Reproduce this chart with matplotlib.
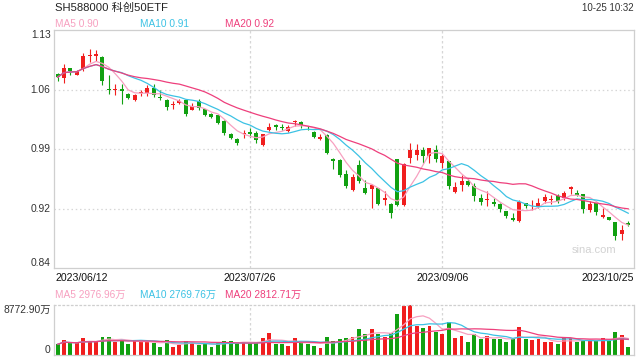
import numpy as np
import pandas as pd
import matplotlib
matplotlib.use("Agg")
import matplotlib.pyplot as plt

# ==================================================
# DATA
# ==================================================

opens = [1.0777, 1.0729, 1.0849, 1.0771, 1.0843, 1.0994, 1.0998, 1.0982, 1.0596, 1.0590,
         1.0596, 1.0536, 1.0467, 1.0542, 1.0542, 1.0604, 1.0494, 1.0463, 1.0403, 1.0433,
         1.0463, 1.0346, 1.0455, 1.0349, 1.0300, 1.0279, 1.0214, 1.0059, 0.9993, 1.0053,
         1.0077, 1.0065, 0.9926, 1.0105, 1.0158, 1.0132, 1.0095, 1.0198, 1.0198, 1.0126,
         1.0081, 0.9993, 1.0045, 0.9757, 0.9739, 0.9570, 0.9377, 0.9679, 0.9402, 0.9389,
         0.9396, 0.9251, 0.9208, 0.9751, 0.9192, 0.9763, 0.9804, 0.9864, 0.9784, 0.9856,
         0.9703, 0.9724, 0.9353, 0.9441, 0.9490, 0.9422, 0.9281, 0.9257, 0.9233, 0.9208,
         0.9120, 0.9039, 0.9000, 0.9220, 0.9181, 0.9181, 0.9241, 0.9260, 0.9301, 0.9281,
         0.9393, 0.9341, 0.9329, 0.9140, 0.9220, 0.9051, 0.9051, 0.8991, 0.8846, 0.8979]

highs = [1.0789, 1.0898, 1.0855, 1.0830, 1.1030, 1.1079, 1.1067, 1.0990, 1.0771, 1.0662,
         1.0656, 1.0542, 1.0536, 1.0578, 1.0644, 1.0656, 1.0587, 1.0470, 1.0451, 1.0475,
         1.0470, 1.0427, 1.0481, 1.0355, 1.0306, 1.0285, 1.0222, 1.0065, 1.0000, 1.0101,
         1.0120, 1.0089, 1.0059, 1.0186, 1.0168, 1.0174, 1.0162, 1.0222, 1.0205, 1.0144,
         1.0089, 1.0053, 1.0053, 0.9763, 0.9751, 0.9619, 0.9570, 0.9739, 0.9492, 0.9450,
         0.9402, 0.9365, 0.9220, 0.9757, 0.9703, 0.9944, 0.9932, 0.9896, 0.9890, 0.9924,
         0.9806, 0.9730, 0.9474, 0.9562, 0.9522, 0.9462, 0.9329, 0.9362, 0.9281, 0.9215,
         0.9125, 0.9100, 0.9260, 0.9226, 0.9260, 0.9281, 0.9329, 0.9314, 0.9329, 0.9362,
         0.9422, 0.9381, 0.9335, 0.9241, 0.9226, 0.9160, 0.9057, 0.8997, 0.8958, 0.9007]

lows = [1.0693, 1.0668, 1.0771, 1.0765, 1.0817, 1.0922, 1.0934, 1.0650, 1.0536, 1.0524,
        1.0415, 1.0475, 1.0451, 1.0512, 1.0512, 1.0500, 1.0463, 1.0346, 1.0355, 1.0409,
        1.0276, 1.0337, 1.0343, 1.0270, 1.0246, 1.0174, 1.0041, 0.9993, 0.9920, 0.9999,
        1.0017, 0.9944, 0.9908, 1.0089, 1.0101, 1.0101, 1.0083, 1.0144, 1.0126, 1.0101,
        1.0005, 0.9981, 0.9812, 0.9631, 0.9534, 0.9402, 0.9365, 0.9462, 0.9329, 0.9166,
        0.9196, 0.9196, 0.9039, 0.9184, 0.9184, 0.9703, 0.9745, 0.9703, 0.9703, 0.9721,
        0.9643, 0.9393, 0.9341, 0.9361, 0.9426, 0.9248, 0.9200, 0.9181, 0.9181, 0.9112,
        0.9039, 0.9000, 0.8991, 0.9160, 0.9140, 0.9160, 0.9220, 0.9208, 0.9220, 0.9260,
        0.9329, 0.9301, 0.9100, 0.9112, 0.9079, 0.9039, 0.9015, 0.8778, 0.8778, 0.8939]

closes = [1.0738, 1.0849, 1.0817, 1.0817, 1.0990, 1.1003, 1.1018, 1.0693, 1.0584, 1.0600,
          1.0566, 1.0487, 1.0518, 1.0554, 1.0608, 1.0526, 1.0487, 1.0373, 1.0410, 1.0455,
          1.0294, 1.0387, 1.0367, 1.0282, 1.0258, 1.0186, 1.0065, 1.0008, 0.9944, 1.0059,
          1.0053, 0.9975, 1.0053, 1.0138, 1.0138, 1.0122, 1.0138, 1.0207, 1.0158, 1.0120,
          1.0011, 1.0013, 0.9824, 0.9733, 0.9558, 0.9426, 0.9534, 0.9486, 0.9341, 0.9438,
          0.9208, 0.9275, 0.9096, 0.9200, 0.9691, 0.9856, 0.9864, 0.9791, 0.9884, 0.9755,
          0.9784, 0.9422, 0.9414, 0.9490, 0.9434, 0.9301, 0.9233, 0.9265, 0.9208, 0.9152,
          0.9060, 0.9012, 0.9233, 0.9181, 0.9187, 0.9220, 0.9293, 0.9265, 0.9241, 0.9341,
          0.9410, 0.9321, 0.9152, 0.9208, 0.9112, 0.9079, 0.9019, 0.8819, 0.8898, 0.8951]

# volume in 万
volumes = [1877, 2632, 2053, 2053, 2930, 2351, 2527, 3106, 3106, 2351,
           2632, 1877, 2456, 2456, 2351, 2053, 1474, 2632, 1474, 1755,
           2527, 2053, 1755, 2053, 1474, 2053, 2527, 2527, 2053, 2053,
           2053, 2351, 3053, 3807, 1877, 1877, 1649, 3053, 2351, 1877,
           1649, 1298, 3228, 2527, 2755, 2930, 3228, 4509, 3632, 4509,
           3632, 3228, 3930, 7141, 8650, 8772.9, 5088, 4685, 5088, 4106,
           3632, 5860, 2930, 3404, 2228, 3632, 2807, 3404, 2807, 2807,
           2351, 2807, 4983, 2807, 2632, 2807, 2351, 2228, 1877, 3053,
           2930, 2228, 2632, 2456, 2456, 3053, 2456, 3983, 3509, 1474]

date_ticks = [0, 30, 60, 89]
date_labels = ["2023/06/12", "2023/07/26", "2023/09/06", "2023/10/25"]

price_ticks = [1.1308, 1.0590, 0.9872, 0.9154, 0.8436]
price_labels = ["1.13", "1.06", "0.99", "0.92", "0.84"]

vol_max = 8772.90
vol_labels = ["8772.90万", "0"]

title = "SH588000 科创50ETF"
stamp = "10-25 10:32"
ma_price_labels = ["MA5 0.90", "MA10 0.91", "MA20 0.92"]
ma_vol_labels = ["MA5 2976.96万", "MA10 2769.76万", "MA20 2812.71万"]

# ==================================================
# STYLE
# ==================================================

plt.rcParams["font.family"] = ["Liberation Sans", "Noto Sans CJK SC", "DejaVu Sans"]

UP = "#f01e1e"
DOWN = "#11a011"
MA_COLORS = ["#f7a0c0", "#3cc2e4", "#ee3f7c"]
GRID = "#d6d6d6"
FRAME = "#cfcfcf"

W, H = 640, 360

def fx(px):
    return px / W

def fy(py):
    return 1 - py / H

# ==================================================
# FIGURE
# ==================================================

fig = plt.figure(figsize=(6.4, 3.6), dpi=100)
fig.patch.set_facecolor("white")

ax = fig.add_axes([fx(54), fy(268), fx(634) - fx(54), (268 - 30) / H])
axv = fig.add_axes([fx(54), fy(355), fx(634) - fx(54), (355 - 305) / H])

x = np.arange(len(closes))
o = np.array(opens)
h = np.array(highs)
l = np.array(lows)
c = np.array(closes)
v = np.array(volumes)

colors = np.where(c >= o, UP, DOWN)

# candles
ax.vlines(x, l, h, colors=colors, linewidth=0.8, zorder=2)
body = np.maximum(np.abs(c - o), 0.0009)
ax.bar(x, body, bottom=np.minimum(o, c), width=0.62, color=colors,
       linewidth=0, zorder=3)

# moving averages
for n, col in zip([5, 10, 20], MA_COLORS):
    ma = pd.Series(c).rolling(n, min_periods=1).mean()
    ax.plot(x, ma, color=col, linewidth=0.9, zorder=4)

ax.set_xlim(-0.56, 89.9)
ax.set_ylim(price_ticks[-1], price_ticks[0])
ax.set_xticks([])
ax.set_yticks([])

for t in price_ticks[1:-1]:
    ax.axhline(t, color=GRID, linewidth=0.9, linestyle=(0, (1.2, 2.2)), zorder=1)
for t in date_ticks[1:-1]:
    ax.axvline(t, color=GRID, linewidth=0.9, linestyle=(0, (2, 2)), zorder=1)

for s in ax.spines.values():
    s.set_color(FRAME)
    s.set_linewidth(0.9)

ytr = ax.get_yaxis_transform()
for i, (t, lab) in enumerate(zip(price_ticks, price_labels)):
    va = "top" if i == 0 else ("bottom" if i == len(price_ticks) - 1 else "center")
    ax.text(-0.006, t, lab, transform=ytr, ha="right", va=va,
            fontsize=7.4, color="#333333")

ax.text(0.97, 0.075, "sina.com", transform=ax.transAxes, ha="right", va="center",
        fontsize=8, color="#d2d2d2")

# volume
axv.bar(x, v, width=0.6, color=colors, linewidth=0, zorder=2)
for n, col in zip([5, 10, 20], MA_COLORS):
    ma = pd.Series(v).rolling(n, min_periods=1).mean()
    axv.plot(x, ma, color=col, linewidth=0.9, zorder=3)

axv.set_xlim(-0.56, 89.9)
axv.set_ylim(0, vol_max)
axv.set_xticks([])
axv.set_yticks([])
for t in date_ticks[1:-1]:
    axv.axvline(t, color=GRID, linewidth=0.9, linestyle=(0, (2, 2)), zorder=1)
for k, s in axv.spines.items():
    s.set_color(FRAME)
    s.set_linewidth(0.9)
axv.spines["top"].set_linestyle((0, (1.2, 2.2)))

vtr = axv.get_yaxis_transform()
axv.text(-0.006, vol_max, vol_labels[0], transform=vtr, ha="right", va="top",
         fontsize=7.4, color="#333333")
axv.text(-0.006, 0, vol_labels[1], transform=vtr, ha="right", va="bottom",
         fontsize=7.4, color="#333333")

# ==================================================
# TEXT
# ==================================================

fig.text(fx(55), fy(8), title, ha="left", va="center", fontsize=8.1, color="#222222")
fig.text(fx(634), fy(8), stamp, ha="right", va="center", fontsize=7, color="#333333")

for px, lab, col in zip([55, 140, 225], ma_price_labels, MA_COLORS):
    fig.text(fx(px), fy(24), lab, ha="left", va="center", fontsize=7.3, color=col)
for px, lab, col in zip([55, 140, 225], ma_vol_labels, MA_COLORS):
    fig.text(fx(px), fy(295), lab, ha="left", va="center", fontsize=7.3, color=col)

for i, (t, lab) in enumerate(zip(date_ticks, date_labels)):
    if i == 0:
        fig.text(fx(55), fy(278), lab, ha="left", va="center", fontsize=7.6, color="#111111")
    elif i == len(date_ticks) - 1:
        fig.text(fx(634), fy(278), lab, ha="right", va="center", fontsize=7.6, color="#111111")
    else:
        ax.text(t, -0.042, lab, transform=ax.get_xaxis_transform(), ha="center",
                va="center", fontsize=7.6, color="#111111")

fig.savefig("out.png", dpi=100, facecolor="white")
